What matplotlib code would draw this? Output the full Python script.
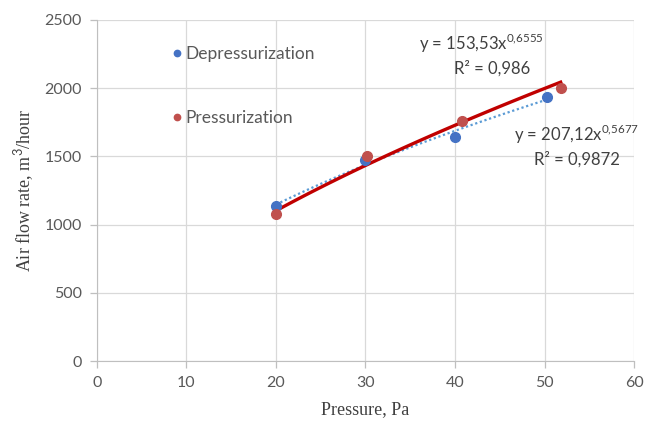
import numpy as np
import matplotlib
matplotlib.use("Agg")
import matplotlib.pyplot as plt

# Data
dep_x = [20, 30, 40, 50.3]
dep_y = [1140, 1470, 1645, 1935]
pre_x = [20, 30.2, 40.8, 51.8]
pre_y = [1075, 1500, 1760, 2000]

dep_eq = ("207,12", "0{,}5677", "0,9872")
pre_eq = ("153,53", "0{,}6555", "0,986")

x_ticks = [0, 10, 20, 30, 40, 50, 60]
y_ticks = [0, 500, 1000, 1500, 2000, 2500]

plt.rcParams['font.family'] = ['Lato', 'DejaVu Sans']
plt.rcParams['mathtext.fontset'] = 'custom'
plt.rcParams['mathtext.rm'] = 'Lato'

grey = "#595959"
blue = "#4472c4"
red = "#c0504d"


def power_fit(x, y):
    # same as Excel power trendline: linear fit in log-log space
    b, ln_a = np.polyfit(np.log(x), np.log(y), 1)
    xs = np.linspace(min(x), max(x), 100)
    return xs, np.exp(ln_a) * xs ** b


fig = plt.figure(figsize=(6.55, 4.33), dpi=100)
ax = fig.add_axes([0.148, 0.166, 0.820, 0.788])

# trendlines
xs, ys = power_fit(dep_x, dep_y)
ax.plot(xs, ys, color="#5b9bd5", lw=1.6, ls=(0, (1, 1.2)), zorder=2)
xs, ys = power_fit(pre_x, pre_y)
ax.plot(xs, ys, color="#c00000", lw=2.4, zorder=3)

ax.plot(dep_x, dep_y, "o", color=blue, ms=7, label="Depressurization", zorder=4)
ax.plot(pre_x, pre_y, "o", color=red, ms=7, label="Pressurization", zorder=4)

ax.set_xlim(0, 60)
ax.set_ylim(0, 2500)
ax.set_xticks(x_ticks)
ax.set_yticks(y_ticks)
ax.grid(True, color="#d9d9d9", lw=0.9)
ax.set_axisbelow(True)
for s in ["top", "right"]:
    ax.spines[s].set_visible(False)
for s in ["left", "bottom"]:
    ax.spines[s].set_color("#bfbfbf")
ax.tick_params(colors="#bfbfbf", labelcolor=grey, labelsize=11.5, length=5, width=0.9, pad=6)

ax.set_xlabel("Pressure, Pa", family="Liberation Serif", fontsize=13, color="#404040", labelpad=8)
ax.set_ylabel("Air flow rate, m$^3$/hour", family="Liberation Serif", fontsize=13, color="#404040", labelpad=6)

leg = ax.legend(loc="upper left", bbox_to_anchor=(0.139, 0.923), frameon=False, fontsize=12.5,
                borderaxespad=0, borderpad=0, handlelength=0.6, handletextpad=0.2,
                labelspacing=2.75, markerscale=0.65)
for t in leg.get_texts():
    t.set_color(grey)

ax.text(42.9, 2331, r"y = %sx$^{\mathregular{%s}}$" % (pre_eq[0], pre_eq[1]), ha="center", va="center",
        fontsize=12, color="#404040")
ax.text(44.1, 2148, "R² = %s" % pre_eq[2], ha="center", va="center", fontsize=12, color="#404040")
ax.text(53.6, 1664, r"y = %sx$^{\mathregular{%s}}$" % (dep_eq[0], dep_eq[1]), ha="center", va="center",
        fontsize=12, color="#404040")
ax.text(53.6, 1481, "R² = %s" % dep_eq[2], ha="center", va="center", fontsize=12, color="#404040")

fig.savefig("out.png", dpi=100)
